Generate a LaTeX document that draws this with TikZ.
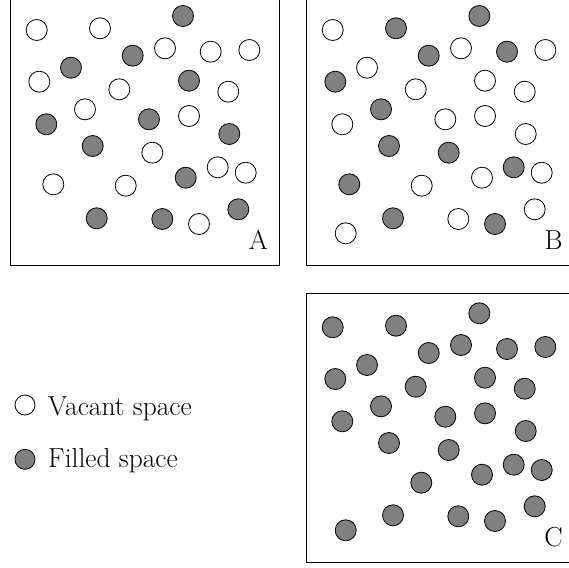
\documentclass[tikz,border=0pt]{standalone}
\definecolor{fillgray}{RGB}{128,128,128}
\begin{document}
\begin{tikzpicture}[x=1pt,y=-1pt,
  vac/.style={circle,draw=black,fill=white,line width=0.8pt,minimum size=21pt,inner sep=0pt},
  fil/.style={circle,draw=black,fill=fillgray,line width=0.8pt,minimum size=21pt,inner sep=0pt},
  frame/.style={draw=black,line width=0.9pt},
  lbl/.style={font=\fontsize{27.5}{33}\selectfont,inner sep=0pt}]
\useasboundingbox (0,0) rectangle (569,567);
\clip (0,0) rectangle (569,567);
% boxes
\draw[frame] (10,-4.3) rectangle (279,265);
\draw[frame] (306,-4.3) rectangle (575,265);
\draw[frame] (306,293.3) rectangle (575,562.3);
% box A
\foreach \x/\y [count=\i] in {36.7/30,100/28.3,165/48.3,210.7/51.7,249.3/50,39.3/81.7,119.3/89.3,228.3/91.7,85/109.3,189/116,152.3/152.7,53.3/184.3,125.7/185.7,217.7/167.3,245.7/172.7,199/224}
  \node[vac] (aw\i) at (\x,\y) {};
\foreach \x/\y [count=\i] in {183/16,132.7/55.7,71/67.7,189/80.7,46.3/124.3,149/119.3,229.3/134,92.7/146,185.7/177.7,96.7/218.3,162.3/219,238.3/209.3}
  \node[fil] (af\i) at (\x,\y) {};
\node[lbl,anchor=base] (la) at (258.5,249) {A};
% box B
\foreach \x/\y [count=\i] in {332.7/30,461/48.3,545.3/50,367/67.7,415.7/89.3,485/80.7,524.7/91.7,342.3/124.3,445.3/119.3,485/116,525.7/134,421.7/185.7,482/177.7,541.7/172.7,458.3/219,534.7/209.3,345.7/233.3}
  \node[vac] (bw\i) at (\x,\y) {};
\foreach \x/\y [count=\i] in {396/28.3,479.3/16,428.7/55.7,507/51.7,335.3/81.7,381/109.3,389/146,448.7/152.7,349.3/184.3,513.7/167.3,393/218.3,495/224}
  \node[fil] (bf\i) at (\x,\y) {};
\node[lbl,anchor=base] (lb) at (553.5,249) {B};
% box C
\foreach \x/\y [count=\i] in {332.7/327.3,396/325.7,479.3/313.3,428.7/353,461/345,507/349,545.3/347,367/365,335.3/379,415.7/386.7,485/377.7,524.7/388.7,381/406.3,342.3/421.3,445.3/416.7,485/413.3,525.7/431,389/443,448.7/450,421.3/482.7,482/474.7,513.7/464.7,541.7/470,393/515.3,458.3/516.3,495/521,534.7/506.3,345.7/530.3}
  \node[fil] (cf\i) at (\x,\y) {};
\node[lbl,anchor=base] (lc) at (553.5,546) {C};
% legend
\node[vac,minimum size=20pt] (lv) at (25,405) {};
\node[lbl,anchor=base west] (tv) at (48,415) {Vacant space};
\node[fil,minimum size=20pt] (lf) at (25,459.3) {};
\node[lbl,anchor=base west] (tf) at (48,467) {Filled space};
\end{tikzpicture}
\end{document}
